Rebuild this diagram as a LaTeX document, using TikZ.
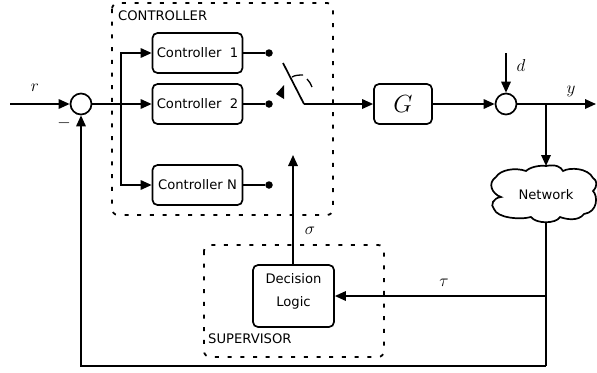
\documentclass[tikz,border=0pt]{standalone}
\usepackage{fontspec}
\setsansfont{DejaVu Sans}
\usetikzlibrary{arrows.meta,calc}
\tikzset{
 x=1bp,y=-1bp,
 wire/.style={line width=1.7bp,-{Triangle[length=11bp,width=9.5bp]}},
 plain/.style={line width=1.7bp},
 ctrl/.style={draw,line width=1.7bp,rounded corners=5bp,minimum width=90bp,minimum height=40bp,inner sep=0pt,font=\sffamily\fontsize{13.2}{16}\selectfont},
 sumnode/.style={circle,draw,line width=1.7bp,minimum size=21bp,inner sep=0pt},
 dotnode/.style={circle,fill=black,minimum size=7.5bp,inner sep=0pt},
 group/.style={line width=1.8bp,dash pattern=on 4bp off 8.7bp,rounded corners=6bp},
 lbl/.style={inner sep=0pt,font=\sffamily\fontsize{13.2}{16}\selectfont},
 mathlbl/.style={inner sep=0pt,font=\fontsize{19}{22}\selectfont},
}
\begin{document}
\begin{tikzpicture}
\useasboundingbox (0,0) rectangle (597,372);
\draw[group] (112,3) rectangle (333,215);
\draw[group] (204,245) rectangle (384,357);
\node[lbl,anchor=west] (ctitle) at (118,16) {CONTROLLER};
\node[lbl,anchor=west] (stitle) at (208,339) {SUPERVISOR};
\node[sumnode] (s1) at (81,104) {};
\node[sumnode] (s2) at (506,104) {};
\node[ctrl] (c1) at (197.5,53) {Controller\ \ 1};
\node[ctrl] (c2) at (197.5,104) {Controller\ \ 2};
\node[ctrl] (cn) at (197.5,185) {Controller N};
\node[dotnode] (d1) at (269,53) {};
\node[dotnode] (d2) at (269,104) {};
\node[dotnode] (dn) at (269,185) {};
\node[ctrl,minimum width=81bp,minimum height=62bp] (dl) at (293.5,296) {\raisebox{12bp}{\shortstack[c]{Decision\\[9bp]Logic}}};
\node[ctrl,minimum width=58bp] (g) at (403,104) {\fontsize{25}{28}\selectfont$G$};
% named junctions
\coordinate (rin) at (10,104);
\coordinate (split) at (121,104);
\coordinate (pivot) at (304,104);
\coordinate (swtop) at (283,63);
\coordinate (dtop) at (506,53);
\coordinate (yout) at (596,104);
\coordinate (ybr) at (546,104);
\coordinate (ntop) at (546,166);
\coordinate (nbot) at (546,223);
\coordinate (tapt) at (546,296);
\coordinate (corner) at (546,366);
\coordinate (sigtip) at (293,155);
% cloud
\draw[line width=1.7bp] (ntop)
 .. controls (556,164) and (561,167) .. (563,171)
 .. controls (570,167) and (588,168) .. (593,178)
 .. controls (597,180) and (598,186) .. (593,191)
 .. controls (598,196) and (598,212) .. (584,214)
 .. controls (578,222) and (565,219) .. (560,217)
 .. controls (556,224) and (536,224) .. (531,217)
 .. controls (520,220) and (497,218) .. (494,209)
 .. controls (490,205) and (493,198) .. (501,197)
 .. controls (492,194) and (487,183) .. (496,177)
 .. controls (500,170) and (515,167) .. (526,171)
 .. controls (530,167) and (540,165) .. (ntop);
\node[lbl] (net) at (546,195) {Network};
% wires
\draw[wire] (rin) -- (s1);
\draw[plain] (s1) -- (split);
\draw[wire] (split) -- (c2);
\draw[wire] (split) |- (c1);
\draw[wire] (split) |- (cn);
\draw[plain] (c1) -- (d1);
\draw[plain] (c2) -- (d2);
\draw[plain] (cn) -- (dn);
\draw[plain] (swtop) -- (pivot);
\draw[wire] (pivot) -- (g);
\draw[wire] (g) -- (s2);
\draw[wire] (dtop) -- (s2);
\draw[wire] (s2) -- (yout);
\draw[wire] (ybr) -- (ntop);
\draw[plain] (nbot) -- (corner);
\draw[wire] (tapt) -- (dl);
\draw[wire] (corner) -| (s1);
\draw[wire] (dl.north -| sigtip) -- (sigtip);
% switch actuator
\draw[line width=1.3bp] (292,77) .. controls (295,75) and (300,75) .. (303,75);
\draw[line width=1.3bp] (307,79) .. controls (309,81) and (311,84) .. (312,87);
\fill (276,94) -- (284,85) -- (284,99) -- cycle;
% math labels
\node[mathlbl] (lr) at (35,88) {$r$};
\node[mathlbl] (lminus) at (64,123) {$-$};
\node[mathlbl] (ld) at (521,66) {$d$};
\node[mathlbl] (ly) at (571,91) {$y$};
\node[mathlbl] (ls) at (310,231) {$\sigma$};
\node[mathlbl] (lt) at (444,283) {$\tau$};
\end{tikzpicture}
\end{document}
